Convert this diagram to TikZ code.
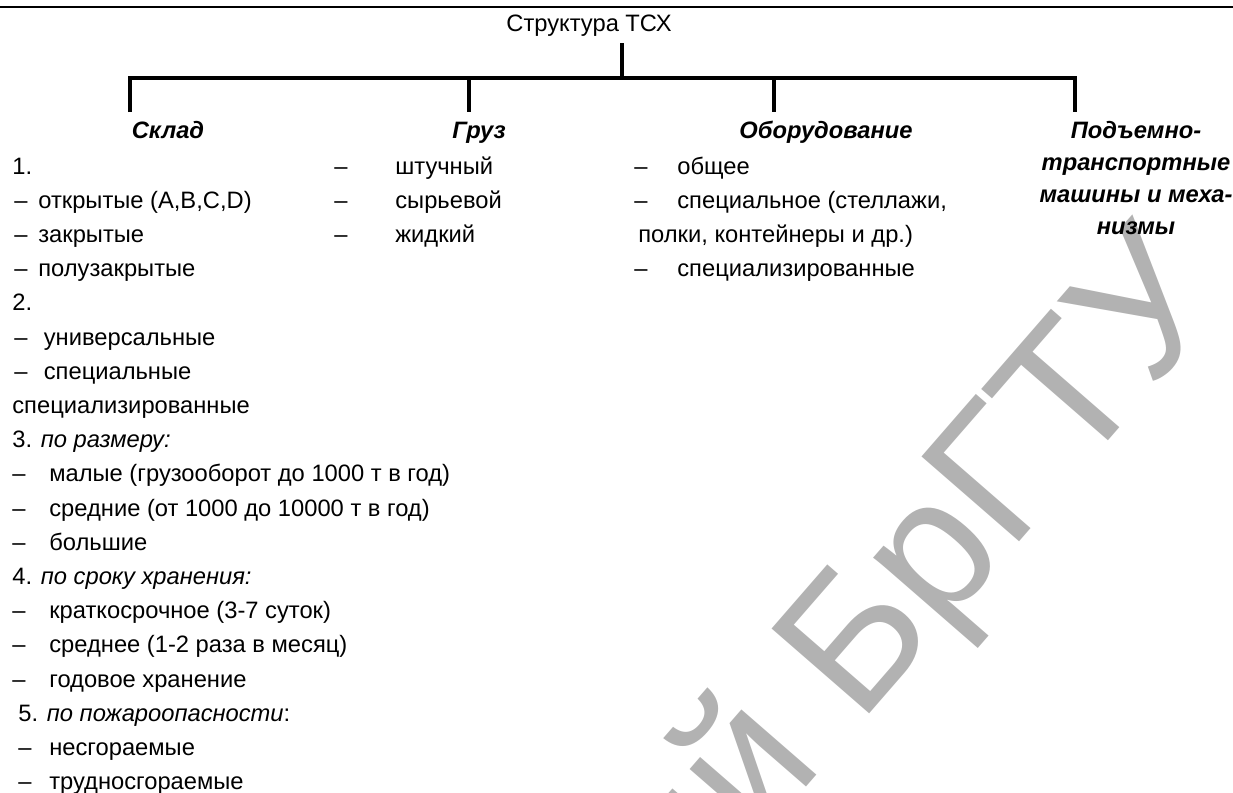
\documentclass[tikz,border=0pt]{standalone}
\usepackage{fontspec}
\setmainfont{Liberation Sans}

\begin{document}
\begin{tikzpicture}[x=0.02cm, y=-0.02cm,
	txt/.style={anchor=base west, inner sep=0pt, font=\fontsize{13.5}{16}\selectfont},
	head/.style={anchor=base, inner sep=0pt, font=\fontsize{13.5}{16}\selectfont\bfseries\itshape},
	tree/.style={line width=2.3pt}]
	\useasboundingbox (0,0) rectangle (1233,792);

	\newcommand*{\ltop}{174}
	\newcommand*{\lstep}{34.2}

	% watermark
	\begin{scope}
		\clip (0,0) rectangle (1233,792);
		\node[rotate=49, anchor=base east, inner sep=0pt, text=black!30,
			font=\fontsize{107}{107}\selectfont] (wm) at (1230,300) {Репозиторий БрГТУ};
	\end{scope}

	\coordinate (ruleL) at (0,7);
	\coordinate (ruleR) at (1233,7);
	\draw [line width=1.4pt] (ruleL) -- (ruleR);

	\node[head, font=\fontsize{13.5}{16}\selectfont] (root) at (589,31) {Структура ТСХ};

	% tree
	\coordinate (stem) at (622,43);
	\coordinate (hub) at (622,78);
	\draw [tree] (stem) -- (hub);
	\foreach \n/\x in {sklad/130, gruz/469, obor/774, ptm/1075}{
		\coordinate (\n-t) at (\x,78);
		\coordinate (\n-b) at (\x,112);}
	\draw [tree] (sklad-b) -- (sklad-t) -- (ptm-t) -- (ptm-b);
	\draw [tree] (gruz-t) -- (gruz-b);
	\draw [tree] (obor-t) -- (obor-b);

	\node[head] (sklad) at (168,138) {Склад};
	\node[head] (gruz) at (479,138) {Груз};
	\node[head] (obor) at (826,138) {Оборудование};
	\foreach \t [count=\k] in {Подъемно-, транспортные, машины и меха-, низмы}
		\node[head] (ptm\k) at (1136,{138+32.3*(\k-1)}) {\t};

	% Склад
	\foreach \i/\x/\tx in {0/12/{1.}, 4/12/{2.}, 7/12/{специализированные},
		8/12/{3. \textit{по размеру:}}, 12/12/{4. \textit{по сроку хранения:}},
		16/18/{5. \textit{по пожароопасности}:}}
		\node[txt] (sk\i) at (\x,{\ltop+\lstep*\i}) {\tx};

	\foreach \i/\d/\x/\tx in {1/14/38/{открытые (A,B,C,D)}, 2/14/38/{закрытые}, 3/14/38/{полузакрытые},
		5/14/43.5/{универсальные}, 6/14/43.5/{специальные},
		9/12/49/{малые (грузооборот до 1000 т в год)}, 10/12/49/{средние (от 1000 до 10000 т в год)},
		11/12/49/{большие}, 13/12/49/{краткосрочное (3-7 суток)}, 14/12/49/{среднее (1-2 раза в месяц)},
		15/12/49/{годовое хранение}, 17/18/49/{несгораемые}, 18/18/49/{трудносгораемые}}{
		\node[txt] (skd\i) at (\d,{\ltop+\lstep*\i}) {–};
		\node[txt] (sk\i) at (\x,{\ltop+\lstep*\i}) {\tx};}

	% Груз
	\foreach \i/\tx in {0/штучный, 1/сырьевой, 2/жидкий}{
		\node[txt] (grd\i) at (334,{\ltop+\lstep*\i}) {–};
		\node[txt] (gr\i) at (395,{\ltop+\lstep*\i}) {\tx};}

	% Оборудование
	\foreach \i/\tx in {0/{общее}, 1/{специальное (стеллажи,}, 3/{специализированные}}{
		\node[txt] (obd\i) at (634,{\ltop+\lstep*\i}) {–};
		\node[txt] (ob\i) at (677,{\ltop+\lstep*\i}) {\tx};}
	\node[txt] (ob2) at (638,{\ltop+\lstep*2}) {полки, контейнеры и др.)};

\end{tikzpicture}
\end{document}
